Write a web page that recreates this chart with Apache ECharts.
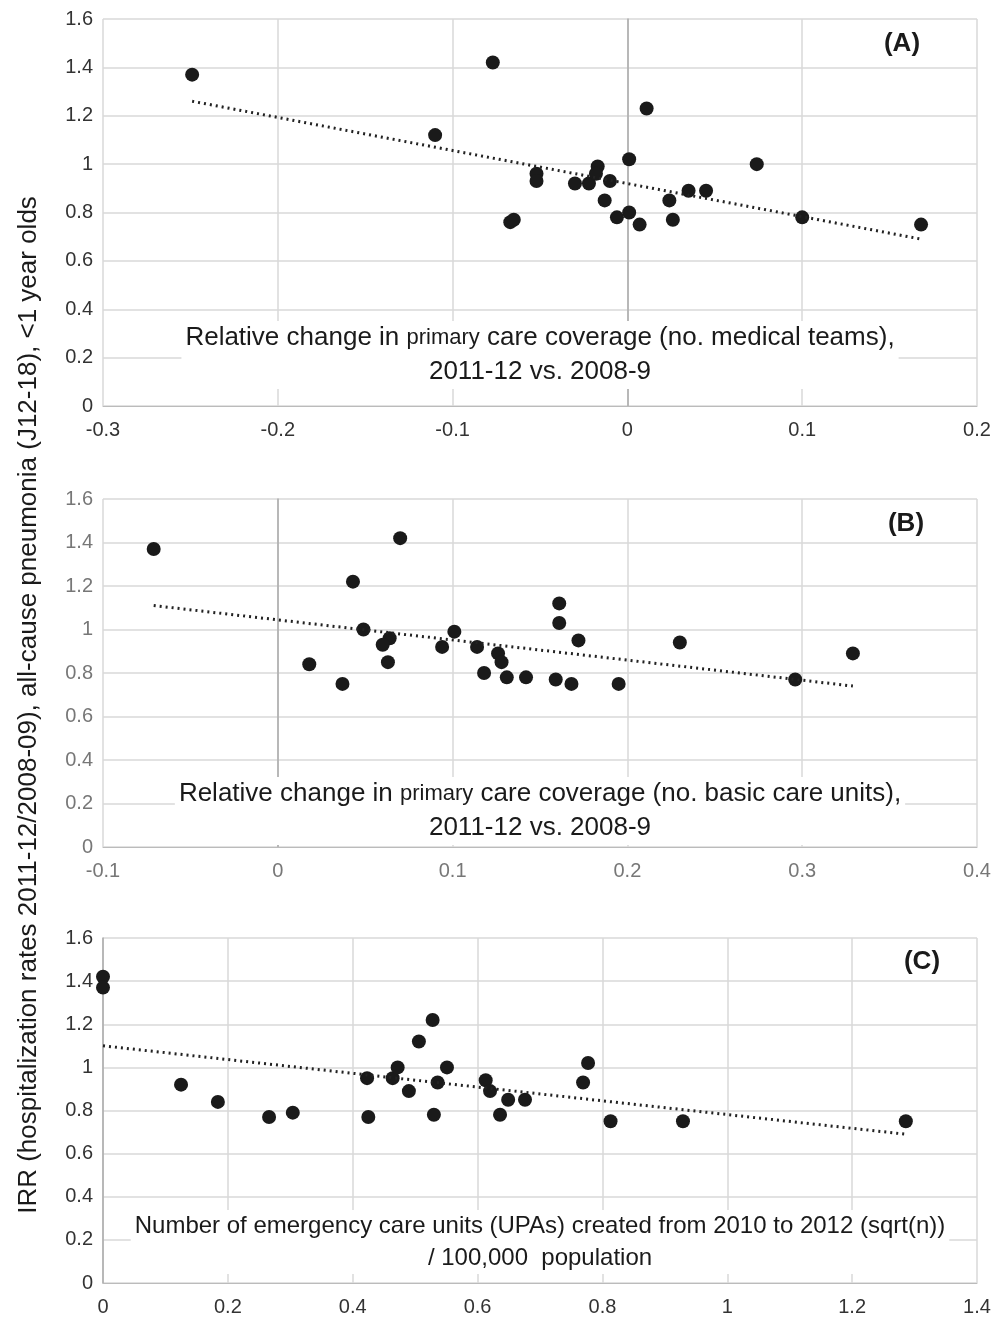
<!DOCTYPE html>
<html lang="en">
<head>
    <meta charset="UTF-8">
    <title>IRR scatter</title>
    <script src="https://cdn.jsdelivr.net/npm/echarts@6/dist/echarts.min.js"></script>
    <style>
        body { margin: 0; background: #fff; }
        .demo { width: 998px; height: 1319px; }
    </style>
</head>
<body>
    <div class="demo"></div>
    <script>
        // panel A: relative change in medical teams
        var pointsA = [[-0.249,1.37],[-0.077,1.42],[-0.110,1.12],[0.011,1.23],[-0.052,0.96],[-0.052,0.93],
            [-0.067,0.76],[-0.065,0.77],[-0.030,0.92],[-0.022,0.92],[-0.017,0.99],[-0.018,0.96],[-0.010,0.93],
            [-0.013,0.85],[-0.006,0.78],[0.001,0.80],[0.001,1.02],[0.007,0.75],[0.024,0.85],[0.026,0.77],
            [0.035,0.89],[0.045,0.89],[0.074,1.00],[0.100,0.78],[0.168,0.75]]
        var trendA = [[-0.249,1.26],[0.168,0.69]]
        // panel B: relative change in basic care units
        var pointsB = [[-0.071,1.37],[0.070,1.42],[0.043,1.22],[0.161,1.12],[0.161,1.03],[0.049,1.00],
            [0.101,0.99],[0.064,0.96],[0.060,0.93],[0.172,0.95],[0.230,0.94],[0.094,0.92],[0.114,0.92],
            [0.126,0.89],[0.329,0.89],[0.018,0.84],[0.063,0.85],[0.128,0.85],[0.118,0.80],[0.131,0.78],
            [0.142,0.78],[0.159,0.77],[0.037,0.75],[0.168,0.75],[0.195,0.75],[0.296,0.77]]
        var trendB = [[-0.071,1.11],[0.329,0.74]]
        // panel C: emergency care units
        var pointsC = [[0,1.42],[0,1.37],[0.125,0.92],[0.184,0.84],[0.266,0.77],[0.304,0.79],[0.423,0.95],
            [0.425,0.77],[0.464,0.95],[0.472,1.00],[0.490,0.89],[0.506,1.12],[0.528,1.22],[0.530,0.78],
            [0.536,0.93],[0.551,1.00],[0.613,0.94],[0.620,0.89],[0.636,0.78],[0.649,0.85],[0.676,0.85],
            [0.769,0.93],[0.777,1.02],[0.813,0.75],[0.929,0.75],[1.286,0.75]]
        var trendC = [[0,1.10],[1.286,0.69]]

        var xRanges = [[-0.3, 0.2, 0.1], [-0.1, 0.4, 0.1], [0, 1.4, 0.2]]
        var tops = [19, 499, 938]
        var bottoms = [913, 472, 36]

        var div = echarts.init(document.querySelector('.demo'))
        var grids = [], xAxes = [], yAxes = [], series = []
        var labelColor = ['#333', '#777', '#333']
        ;[pointsA, pointsB, pointsC].forEach(function (pts, i) {
            grids.push({ left: 103, right: 21, top: tops[i], bottom: bottoms[i] })
            xAxes.push({
                gridIndex: i, type: 'value', min: xRanges[i][0], max: xRanges[i][1], interval: xRanges[i][2],
                axisLine: { show: true, onZero: false, lineStyle: { color: '#bbb' } },
                axisTick: { show: false },
                axisLabel: { color: labelColor[i], fontSize: 20, margin: 14, fontFamily: 'Liberation Sans' },
                splitLine: { lineStyle: { color: '#d9d9d9', width: 1.5 } }
            })
            yAxes.push({
                gridIndex: i, type: 'value', min: 0, max: 1.6, interval: 0.2,
                axisLine: { show: true, lineStyle: { color: '#aaa', width: 1.5 } },
                axisTick: { show: false },
                axisLabel: { color: labelColor[i], fontSize: 20, margin: 10, fontFamily: 'Liberation Sans' },
                splitLine: { lineStyle: { color: '#d9d9d9', width: 1.5 } }
            })
            series.push({
                type: 'scatter', xAxisIndex: i, yAxisIndex: i, data: pts,
                symbolSize: 14, itemStyle: { color: '#1a1a1a', opacity: 1 }, z: 3
            })
            series.push({
                type: 'line', xAxisIndex: i, yAxisIndex: i, data: [trendA, trendB, trendC][i],
                symbol: 'none', lineStyle: { color: '#222', width: 3, type: [2, 4] }, z: 4
            })
        })

        var rich = { s: { fontSize: 22, fontFamily: 'Liberation Sans', color: '#1a1a1a', lineHeight: 34 } }
        function note(y, txt, size) {
            return { type: 'text', x: 540, y: y, z: 10, style: {
                text: txt, rich: rich, fontSize: size, lineHeight: 34, align: 'center',
                backgroundColor: '#fff', padding: [0, 4],
                fontFamily: 'Liberation Sans', fill: '#1a1a1a' } }
        }
        function tag(x, y, txt) {
            return { type: 'text', x: x, y: y, style: { text: txt, fontSize: 26, fontWeight: 'bold',
                align: 'center', fontFamily: 'Liberation Sans', fill: '#1a1a1a' } }
        }
        var option = {
            animation: false,
            grid: grids, xAxis: xAxes, yAxis: yAxes, series: series,
            graphic: [
                tag(902, 31, '(A)'), tag(906, 511, '(B)'), tag(922, 949, '(C)'),
                note(321, 'Relative change in {s|primary} care coverage (no. medical teams),\n2011-12 vs. 2008-9', 26),
                note(777, 'Relative change in {s|primary} care coverage (no. basic care units),\n2011-12 vs. 2008-9', 26),
                { type: 'text', x: 540, y: 1210, z: 10, style: {
                    text: 'Number of emergency care units (UPAs) created from 2010 to 2012 (sqrt(n))\n/ 100,000  population',
                    fontSize: 24, lineHeight: 32, align: 'center', backgroundColor: '#fff', padding: [0, 4],
                    fontFamily: 'Liberation Sans', fill: '#1a1a1a' } },
                { type: 'text', x: 16, y: 705, rotation: Math.PI / 2, style: {
                    text: 'IRR (hospitalization rates 2011-12/2008-09), all-cause pneumonia (J12-18), <1 year olds',
                    fontSize: 26, align: 'center', fontFamily: 'Liberation Sans', fill: '#1a1a1a' } }
            ]
        }
        div.setOption(option)
    </script>
</body>
</html>
